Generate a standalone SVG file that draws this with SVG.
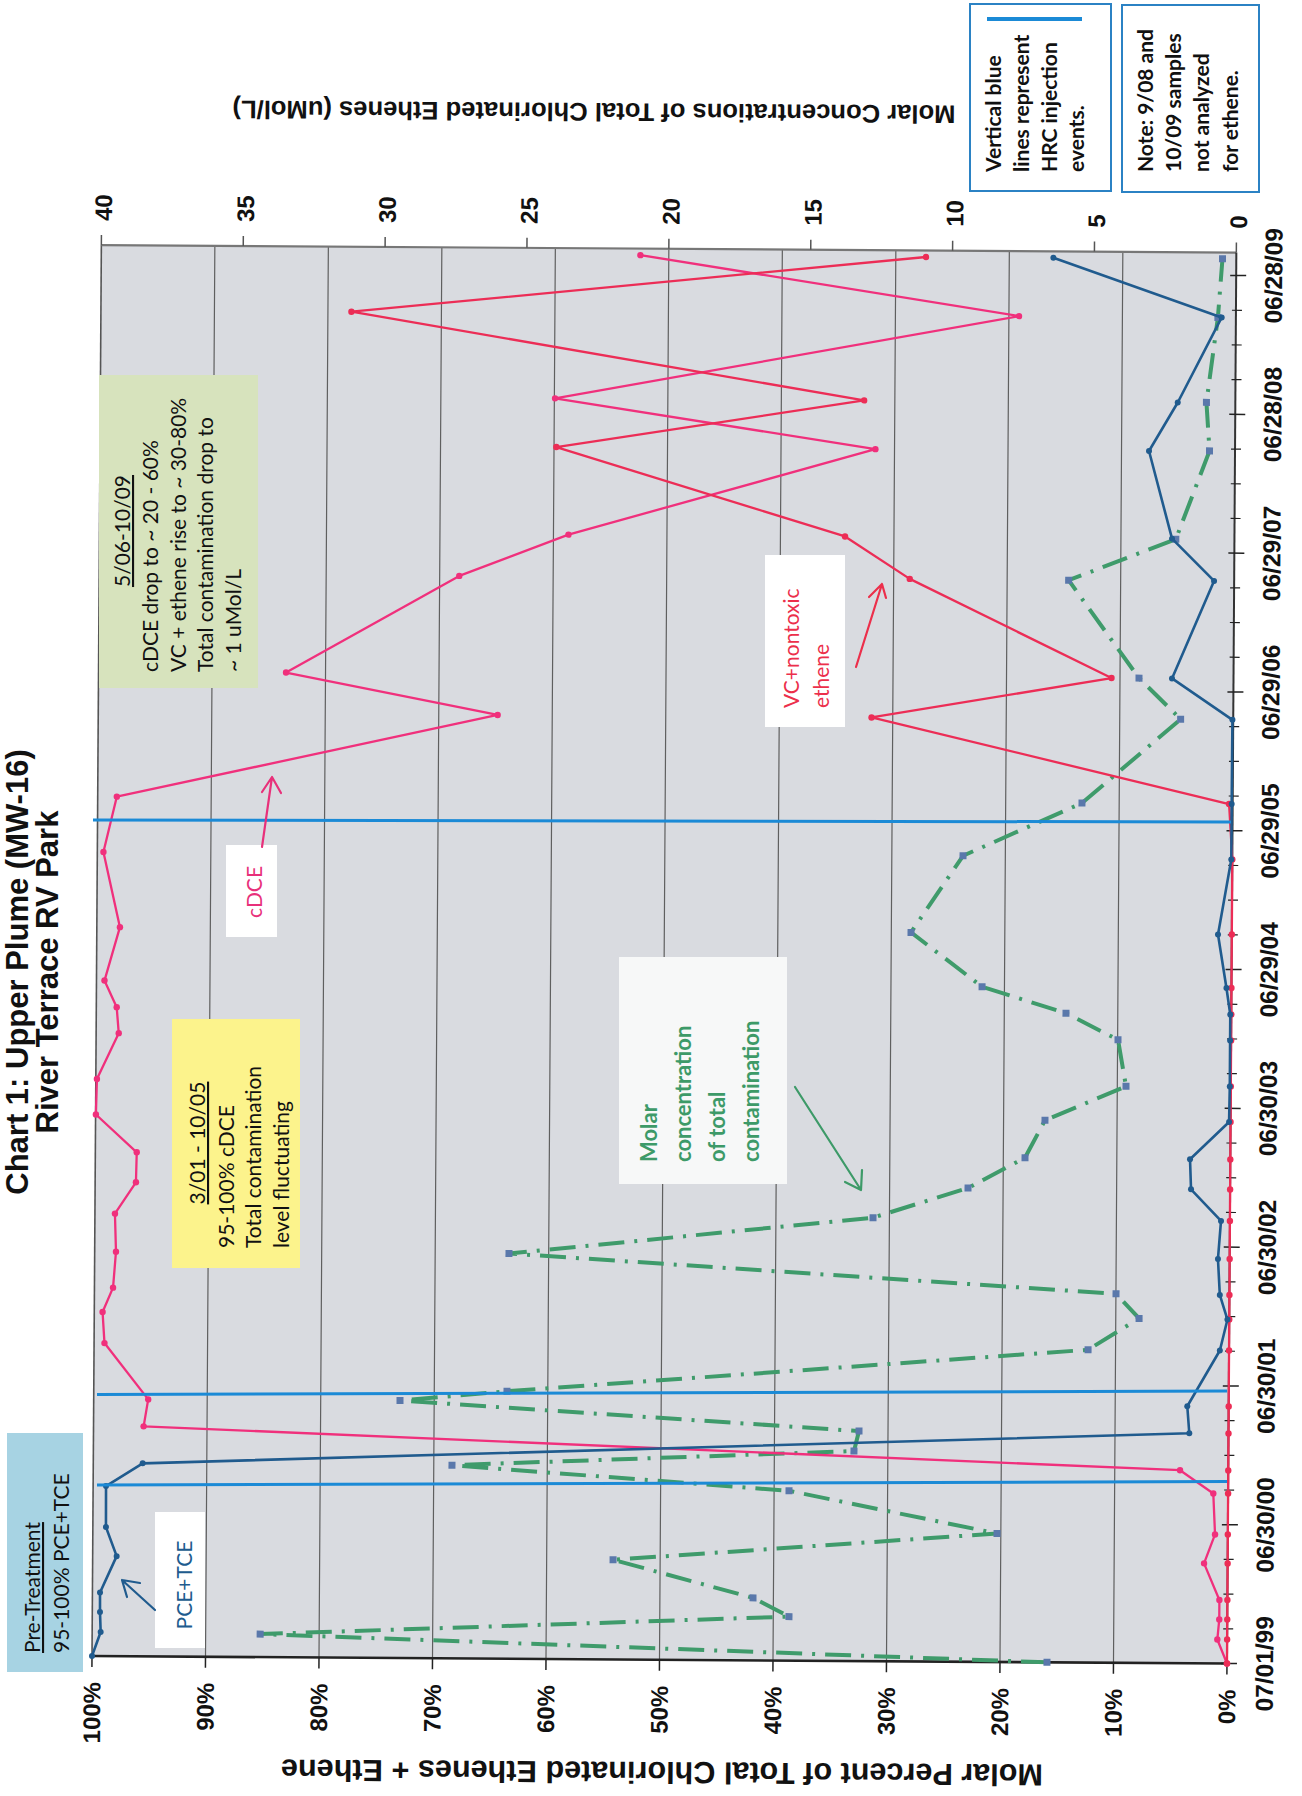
<svg xmlns="http://www.w3.org/2000/svg" width="1302" height="1796" viewBox="0 0 1302 1796">
<style>
.ax{font-family:"Liberation Sans",Arial,sans-serif;font-weight:bold;font-size:24px;fill:#111}
.ttl{font-family:"Liberation Sans",Arial,sans-serif;font-weight:bold;fill:#111}
.ann{font-family:Lato,"Liberation Sans",sans-serif;font-size:21px;fill:#111}
.leg{font-family:Lato,"Liberation Sans",sans-serif;font-size:21px;font-weight:bold;fill:#111}
.grid{stroke:#5f5f5f;stroke-width:1.2;fill:none}
.cdce{fill:none;stroke:#f0307c;stroke-width:2.3;stroke-linejoin:round;marker-start:url(#mP);marker-mid:url(#mP);marker-end:url(#mP)}
.vc{fill:none;stroke:#ec2d56;stroke-width:2.3;stroke-linejoin:round;marker-start:url(#mV);marker-mid:url(#mV);marker-end:url(#mV)}
.pce{fill:none;stroke:#205b8e;stroke-width:2.6;stroke-linejoin:round;marker-start:url(#mB);marker-mid:url(#mB);marker-end:url(#mB)}
.conc{fill:none;stroke:#3f9b6b;stroke-width:4;stroke-dasharray:26 10 3 10;marker-start:url(#mG);marker-mid:url(#mG);marker-end:url(#mG)}
.hrc{stroke:#1b8ad6;stroke-width:3;fill:none}
.arr{fill:none;stroke-width:2.2;stroke-linecap:round;stroke-linejoin:round}
</style>
<defs>
<marker id="mP" viewBox="-4 -4 8 8" markerWidth="8" markerHeight="8" markerUnits="userSpaceOnUse"><circle r="3.2" fill="#f0307c"/></marker>
<marker id="mV" viewBox="-4 -4 8 8" markerWidth="8" markerHeight="8" markerUnits="userSpaceOnUse"><circle r="3.2" fill="#ec2d56"/></marker>
<marker id="mB" viewBox="-4 -4 8 8" markerWidth="8" markerHeight="8" markerUnits="userSpaceOnUse"><circle r="3" fill="#205b8e"/></marker>
<marker id="mG" viewBox="-4 -4 8 8" markerWidth="8" markerHeight="8" markerUnits="userSpaceOnUse"><rect x="-3.5" y="-3.5" width="7" height="7" fill="#5a78ab"/></marker>
</defs>
<rect width="1302" height="1796" fill="#ffffff"/>

<g id="chart" transform="rotate(0.38 92 1656)">
  <rect id="plot-area" x="92" y="245" width="1135" height="1411" fill="#d9dbe0"/>
  <g id="gridlines">
    <path class="grid" d="M205.5,245V1656M319,245V1656M432.5,245V1656M546,245V1656M659.5,245V1656M773,245V1656M886.5,245V1656M1000,245V1656M1113.5,245V1656"/>
    <path d="M92,245V1656" stroke="#555" stroke-width="1.6"/>
    <path d="M92,245H1227" stroke="#777" stroke-width="2.2"/>
  </g>
  <g id="axes">
    <path d="M92,1656H1227" stroke="#222" stroke-width="2.6"/>
    <path d="M1227,245V1656" stroke="#333" stroke-width="2"/>
    <path stroke="#222" stroke-width="1.5" d="M92,1656v11M205.5,1656v11M319,1656v11M432.5,1656v11M546,1656v11M659.5,1656v11M773,1656v11M886.5,1656v11M1000,1656v11M1113.5,1656v11M1227,1656v11"/>
    <path stroke="#555" stroke-width="1.5" d="M92,245v-10M233.9,245v-10M375.75,245v-10M517.6,245v-10M659.5,245v-10M801.4,245v-10M943.25,245v-10M1085.1,245v-10M1227,245v-10"/>
    <path stroke="#222" stroke-width="1.5" d="M1221,1656H1237M1221,1517.2H1237M1221,1378.4H1237M1221,1239.6H1237M1221,1100.8H1237M1221,962H1237M1221,823.2H1237M1221,684.4H1237M1221,545.6H1237M1221,406.8H1237M1221,268H1237"/>
    <path stroke="#222" stroke-width="1.2" d="M1223,1621.3H1233M1223,1586.6H1233M1223,1551.9H1233M1223,1482.5H1233M1223,1447.8H1233M1223,1413.1H1233M1223,1343.7H1233M1223,1309H1233M1223,1274.3H1233M1223,1204.9H1233M1223,1170.2H1233M1223,1135.5H1233M1223,1066.1H1233M1223,1031.4H1233M1223,996.7H1233M1223,927.3H1233M1223,892.6H1233M1223,857.9H1233M1223,788.5H1233M1223,753.8H1233M1223,719.1H1233M1223,649.7H1233M1223,615H1233M1223,580.3H1233M1223,510.9H1233M1223,476.2H1233M1223,441.5H1233M1223,372.1H1233M1223,337.4H1233M1223,302.7H1233"/>
  </g>
  <g id="percent-labels" class="ax" text-anchor="end">
    <text x="100.5" y="1682" transform="rotate(-90 100.5 1682)">100%</text>
    <text x="214" y="1682" transform="rotate(-90 214 1682)">90%</text>
    <text x="327.5" y="1682" transform="rotate(-90 327.5 1682)">80%</text>
    <text x="441" y="1682" transform="rotate(-90 441 1682)">70%</text>
    <text x="554.5" y="1682" transform="rotate(-90 554.5 1682)">60%</text>
    <text x="668" y="1682" transform="rotate(-90 668 1682)">50%</text>
    <text x="781.5" y="1682" transform="rotate(-90 781.5 1682)">40%</text>
    <text x="895" y="1682" transform="rotate(-90 895 1682)">30%</text>
    <text x="1008.5" y="1682" transform="rotate(-90 1008.5 1682)">20%</text>
    <text x="1122" y="1682" transform="rotate(-90 1122 1682)">10%</text>
    <text x="1235.5" y="1682" transform="rotate(-90 1235.5 1682)">0%</text>
  </g>
  <g id="conc-labels" class="ax" text-anchor="start">
    <text x="102.5" y="221" transform="rotate(-90 102.5 221)">40</text>
    <text x="244.4" y="221" transform="rotate(-90 244.4 221)">35</text>
    <text x="386.2" y="221" transform="rotate(-90 386.2 221)">30</text>
    <text x="528.1" y="221" transform="rotate(-90 528.1 221)">25</text>
    <text x="670" y="221" transform="rotate(-90 670 221)">20</text>
    <text x="811.9" y="221" transform="rotate(-90 811.9 221)">15</text>
    <text x="953.7" y="221" transform="rotate(-90 953.7 221)">10</text>
    <text x="1095.6" y="221" transform="rotate(-90 1095.6 221)">5</text>
    <text x="1237.5" y="221" transform="rotate(-90 1237.5 221)">0</text>
  </g>
  <g id="date-labels" class="ax" text-anchor="middle" style="font-size:24.5px">
    <text x="1273" y="1656" transform="rotate(-90 1273 1656)">07/01/99</text>
    <text x="1273" y="1517.2" transform="rotate(-90 1273 1517.2)">06/30/00</text>
    <text x="1273" y="1378.4" transform="rotate(-90 1273 1378.4)">06/30/01</text>
    <text x="1273" y="1239.6" transform="rotate(-90 1273 1239.6)">06/30/02</text>
    <text x="1273" y="1100.8" transform="rotate(-90 1273 1100.8)">06/30/03</text>
    <text x="1273" y="962" transform="rotate(-90 1273 962)">06/29/04</text>
    <text x="1273" y="823.2" transform="rotate(-90 1273 823.2)">06/29/05</text>
    <text x="1273" y="684.4" transform="rotate(-90 1273 684.4)">06/29/06</text>
    <text x="1273" y="545.6" transform="rotate(-90 1273 545.6)">06/29/07</text>
    <text x="1273" y="406.8" transform="rotate(-90 1273 406.8)">06/28/08</text>
    <text x="1273" y="268" transform="rotate(-90 1273 268)">06/28/09</text>
  </g>
  <g id="series">
    <polyline id="total-concentration" class="conc" points="1047,1656 260,1633 788.7,1612 752.6,1593.5 612.4,1556.3 996.2,1527.5 787.9,1486.2 450.7,1462.8 852.6,1446 857.5,1426 398.3,1398.5 505.2,1388.5 1086,1343.2 1136.8,1311.5 1113.6,1287 506.3,1250.8 870.1,1212.5 964.9,1182.2 1021.7,1151.5 1041.4,1114 1122.2,1079.5 1113.9,1033 1061.7,1006.8 977.6,980.8 906.2,927 957.7,850 1076.3,796.5 1174.4,712 1132.5,671.2 1061.5,573.8 1168.4,532 1201.5,443.5 1198.1,395 1209,310 1213.2,251.2"/>
    <polyline id="cdce" class="cdce" points="1227,1656 1217.2,1632 1219,1612 1219,1592.5 1203.4,1556 1214.2,1527 1212.2,1486 1178.8,1463 142.1,1426 146.5,1399 102.4,1343 100.3,1312 110.6,1287.5 113.3,1251.5 112,1213.5 132.8,1182 133.4,1152 92.3,1114.5 93.1,1079 114.6,1033 112.4,1007 100,980.5 115.1,927 98.1,852 111.1,796.5 491.4,712.3 279.5,671.3 452.1,573.5 561,531.5 867.4,444 546.7,395.3 1010.1,310 631.1,251.5"/>
    <polyline id="vc-ethene" class="vc" points="1227,1656 1227,1632 1227,1612 1227,1592.5 1227,1556 1227,1527 1227,1486 1227,1463 1227,1426 1227,1399 1227,1343 1227,1312 1227,1287.5 1227,1251.5 1227,1213.5 1227,1182 1227,1152 1227,1114.5 1227,1079 1227,1033 1227,1007 1227,980.5 1227,927 1227,852 1223.4,796.5 865.3,712.3 1105,671.3 902.6,573.5 837.6,531.5 548.3,444 855.8,395.3 342.5,310 916.7,251.5"/>
    <polyline id="pce-tce" class="pce" points="92,1656 100.5,1632 99.7,1612 99.6,1592.5 116,1556 105.1,1527 104.9,1486 141.4,1463 1187.8,1426 1185.6,1399 1217.8,1343 1225.2,1312 1217.4,1287.5 1215.3,1251.5 1218.1,1213.5 1187.9,1182 1186.7,1152 1225.5,1114.5 1226,1079 1226,1033 1226,1007 1222,980.5 1213.2,927 1226,852 1226,796.5 1226.2,712.3 1165.5,671.3 1206.9,573.5 1164.6,531.5 1141,444 1169.4,395.3 1212.8,310 1044.1,251.5"/>
  </g>
</g>

<g id="hrc-events">
  <path class="hrc" d="M97,1485L1227,1481.5"/>
  <path class="hrc" d="M97,1394.5L1227,1391"/>
  <path class="hrc" d="M93,820L1231,822"/>
</g>

<g id="titles">
  <text class="ttl" x="28" y="972" font-size="31" text-anchor="middle" transform="rotate(-90 28 972)">Chart 1: Upper Plume (MW-16)</text>
  <text class="ttl" x="58" y="972" font-size="31" text-anchor="middle" transform="rotate(-90 58 972)">River Terrace RV Park</text>
  <text class="ttl" x="594" y="103" font-size="25.5" text-anchor="middle" textLength="723" lengthAdjust="spacingAndGlyphs" transform="rotate(180.38 594 103)">Molar Concentrations of Total Chlorinated Ethenes (uMol/L)</text>
  <text class="ttl" x="662" y="1762" font-size="30.5" text-anchor="middle" textLength="762" lengthAdjust="spacingAndGlyphs" transform="rotate(180.38 662 1762)">Molar Percent of Total Chlorinated Ethenes + Ethene</text>
</g>

<g id="note-pretreatment">
  <rect x="7" y="1433" width="76" height="239" fill="#a7d3e3"/>
  <text class="ann" x="40" y="1653" text-decoration="underline" transform="rotate(-90 40 1653)">Pre-Treatment</text>
  <text class="ann" x="69" y="1653" transform="rotate(-90 69 1653)">95-100% PCE+TCE</text>
</g>

<g id="label-pce-tce">
  <rect x="155" y="1512" width="50" height="136" fill="#ffffff"/>
  <text class="ann" x="192" y="1585" text-anchor="middle" style="fill:#205b8e" transform="rotate(-90 192 1585)">PCE+TCE</text>
  <path class="arr" stroke="#205b8e" d="M155,1610L122,1580M140,1583L122,1580L127,1597"/>
</g>

<g id="note-2001-2005">
  <rect x="172" y="1019" width="128" height="249" fill="#fcf38c"/>
  <text class="ann" x="205" y="1143" text-anchor="middle" text-decoration="underline" transform="rotate(-90 205 1143)">3/01 - 10/05</text>
  <text class="ann" x="234" y="1248" transform="rotate(-90 234 1248)">95-100% cDCE</text>
  <text class="ann" x="261" y="1248" transform="rotate(-90 261 1248)">Total contamination</text>
  <text class="ann" x="289" y="1248" transform="rotate(-90 289 1248)">level fluctuating</text>
</g>

<g id="label-cdce">
  <rect x="226" y="845" width="51" height="92" fill="#ffffff"/>
  <text class="ann" x="262" y="892" text-anchor="middle" style="fill:#e8307a" transform="rotate(-90 262 892)">cDCE</text>
  <path class="arr" stroke="#e8307a" d="M262,847L272,777M262,792L272,777L281,793"/>
</g>

<g id="label-concentration">
  <rect x="619" y="957" width="168" height="227" fill="#f7f8f8"/>
  <g class="ann" style="fill:#3d9a68;font-weight:bold;font-size:22px">
    <text x="657" y="1162" transform="rotate(-90 657 1162)">Molar</text>
    <text x="691" y="1162" transform="rotate(-90 691 1162)">concentration</text>
    <text x="725" y="1162" transform="rotate(-90 725 1162)">of total</text>
    <text x="759" y="1162" transform="rotate(-90 759 1162)">contamination</text>
  </g>
  <path class="arr" stroke="#3d9a68" d="M795,1087L861,1190M845,1182L861,1190L862,1170"/>
</g>

<g id="note-2006-2009">
  <rect x="99" y="375" width="159" height="313" fill="#d7e3bd"/>
  <text class="ann" x="130" y="531" text-anchor="middle" text-decoration="underline" transform="rotate(-90 130 531)">5/06-10/09</text>
  <text class="ann" x="158" y="672" transform="rotate(-90 158 672)">cDCE drop to ~ 20 - 60%</text>
  <text class="ann" x="186" y="672" transform="rotate(-90 186 672)">VC + ethene rise to ~ 30-80%</text>
  <text class="ann" x="213" y="672" transform="rotate(-90 213 672)">Total contamination drop to</text>
  <text class="ann" x="241" y="672" transform="rotate(-90 241 672)">~ 1 uMol/L</text>
</g>

<g id="label-vc-ethene">
  <rect x="765" y="555" width="80" height="172" fill="#ffffff"/>
  <text class="ann" x="799" y="708" style="fill:#ec2f4b" transform="rotate(-90 799 708)">VC+nontoxic</text>
  <text class="ann" x="829" y="708" style="fill:#ec2f4b" transform="rotate(-90 829 708)">ethene</text>
  <path class="arr" stroke="#ec2f4b" d="M856,667L882,584M869,597L882,584L886,598"/>
</g>

<g id="legend-hrc">
  <rect x="970" y="4" width="141" height="187" fill="#ffffff" stroke="#2b82c4" stroke-width="2"/>
  <path d="M987,19H1082" stroke="#1b8ad6" stroke-width="4"/>
  <text class="leg" x="1001" y="172" transform="rotate(-90 1001 172)">Vertical blue</text>
  <text class="leg" x="1029" y="172" transform="rotate(-90 1029 172)">lines represent</text>
  <text class="leg" x="1057" y="172" transform="rotate(-90 1057 172)">HRC injection</text>
  <text class="leg" x="1084" y="172" transform="rotate(-90 1084 172)">events.</text>
</g>

<g id="legend-note">
  <rect x="1122" y="5" width="137" height="187" fill="#ffffff" stroke="#2b82c4" stroke-width="2"/>
  <text class="leg" x="1153" y="172" transform="rotate(-90 1153 172)">Note: 9/08 and</text>
  <text class="leg" x="1181" y="172" transform="rotate(-90 1181 172)">10/09 samples</text>
  <text class="leg" x="1209" y="172" transform="rotate(-90 1209 172)">not analyzed</text>
  <text class="leg" x="1238" y="172" transform="rotate(-90 1238 172)">for ethene.</text>
</g>
</svg>
